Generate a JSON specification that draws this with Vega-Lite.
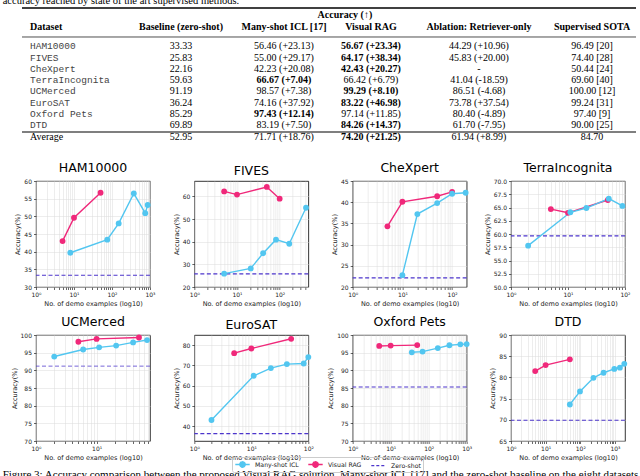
{
"$schema":"https://vega.github.io/schema/vega-lite/v6.json",
"padding":{"left":2,"top":-5,"right":0,"bottom":0},
"background":"white",
"title":{"text":"accuracy reached by state of the art supervised methods.","anchor":"start","font":"Liberation Serif","fontSize":10.5,"fontWeight":"normal","offset":0,"color":"black"},
"spacing":0,
"resolve":{"scale":{"color":"shared"},"legend":{"color":"shared"}},
"datasets":{
"pts":[
{"dataset":"HAM10000","method":"Visual RAG","n":5,"acc":43.0},
{"dataset":"HAM10000","method":"Visual RAG","n":10,"acc":49.6},
{"dataset":"HAM10000","method":"Visual RAG","n":50,"acc":56.67},
{"dataset":"HAM10000","method":"Many-shot ICL","n":8,"acc":39.7},
{"dataset":"HAM10000","method":"Many-shot ICL","n":75,"acc":43.4},
{"dataset":"HAM10000","method":"Many-shot ICL","n":150,"acc":48.0},
{"dataset":"HAM10000","method":"Many-shot ICL","n":375,"acc":56.46},
{"dataset":"HAM10000","method":"Many-shot ICL","n":750,"acc":50.9},
{"dataset":"HAM10000","method":"Many-shot ICL","n":870,"acc":53.2},
{"dataset":"HAM10000","method":"Zero-shot","acc":33.33},
{"dataset":"FIVES","method":"Visual RAG","n":5,"acc":62.2},
{"dataset":"FIVES","method":"Visual RAG","n":10,"acc":60.8},
{"dataset":"FIVES","method":"Visual RAG","n":50,"acc":64.17},
{"dataset":"FIVES","method":"Visual RAG","n":100,"acc":59.0},
{"dataset":"FIVES","method":"Many-shot ICL","n":5,"acc":25.9},
{"dataset":"FIVES","method":"Many-shot ICL","n":21,"acc":28.2},
{"dataset":"FIVES","method":"Many-shot ICL","n":41,"acc":34.9},
{"dataset":"FIVES","method":"Many-shot ICL","n":82,"acc":40.9},
{"dataset":"FIVES","method":"Many-shot ICL","n":168,"acc":39.1},
{"dataset":"FIVES","method":"Many-shot ICL","n":415,"acc":55.0},
{"dataset":"FIVES","method":"Zero-shot","acc":25.83},
{"dataset":"CheXpert","method":"Visual RAG","n":5,"acc":34.3},
{"dataset":"CheXpert","method":"Visual RAG","n":10,"acc":40.1},
{"dataset":"CheXpert","method":"Visual RAG","n":50,"acc":41.4},
{"dataset":"CheXpert","method":"Visual RAG","n":100,"acc":42.43},
{"dataset":"CheXpert","method":"Many-shot ICL","n":10,"acc":22.8},
{"dataset":"CheXpert","method":"Many-shot ICL","n":20,"acc":37.2},
{"dataset":"CheXpert","method":"Many-shot ICL","n":50,"acc":39.8},
{"dataset":"CheXpert","method":"Many-shot ICL","n":100,"acc":42.0},
{"dataset":"CheXpert","method":"Many-shot ICL","n":187,"acc":42.23},
{"dataset":"CheXpert","method":"Zero-shot","acc":22.16},
{"dataset":"TerraIncognita","method":"Visual RAG","n":5,"acc":64.7},
{"dataset":"TerraIncognita","method":"Visual RAG","n":10,"acc":64.0},
{"dataset":"TerraIncognita","method":"Visual RAG","n":50,"acc":66.42},
{"dataset":"TerraIncognita","method":"Many-shot ICL","n":2,"acc":57.8},
{"dataset":"TerraIncognita","method":"Many-shot ICL","n":11,"acc":64.1},
{"dataset":"TerraIncognita","method":"Many-shot ICL","n":21,"acc":64.9},
{"dataset":"TerraIncognita","method":"Many-shot ICL","n":52,"acc":66.67},
{"dataset":"TerraIncognita","method":"Many-shot ICL","n":90,"acc":65.3},
{"dataset":"TerraIncognita","method":"Zero-shot","acc":59.63},
{"dataset":"UCMerced","method":"Visual RAG","n":5,"acc":98.1},
{"dataset":"UCMerced","method":"Visual RAG","n":10,"acc":98.9},
{"dataset":"UCMerced","method":"Visual RAG","n":50,"acc":99.29},
{"dataset":"UCMerced","method":"Many-shot ICL","n":2,"acc":93.9},
{"dataset":"UCMerced","method":"Many-shot ICL","n":6,"acc":95.9},
{"dataset":"UCMerced","method":"Many-shot ICL","n":11,"acc":96.5},
{"dataset":"UCMerced","method":"Many-shot ICL","n":21,"acc":97.0},
{"dataset":"UCMerced","method":"Many-shot ICL","n":40,"acc":97.9},
{"dataset":"UCMerced","method":"Many-shot ICL","n":68,"acc":98.57},
{"dataset":"UCMerced","method":"Zero-shot","acc":91.19},
{"dataset":"EuroSAT","method":"Visual RAG","n":5,"acc":76.1},
{"dataset":"EuroSAT","method":"Visual RAG","n":10,"acc":78.4},
{"dataset":"EuroSAT","method":"Visual RAG","n":50,"acc":83.22},
{"dataset":"EuroSAT","method":"Many-shot ICL","n":2,"acc":43.0},
{"dataset":"EuroSAT","method":"Many-shot ICL","n":11,"acc":64.9},
{"dataset":"EuroSAT","method":"Many-shot ICL","n":22,"acc":68.7},
{"dataset":"EuroSAT","method":"Many-shot ICL","n":42,"acc":70.7},
{"dataset":"EuroSAT","method":"Many-shot ICL","n":83,"acc":71.0},
{"dataset":"EuroSAT","method":"Many-shot ICL","n":100,"acc":74.16},
{"dataset":"EuroSAT","method":"Zero-shot","acc":36.24},
{"dataset":"Oxford Pets","method":"Visual RAG","n":5,"acc":96.9},
{"dataset":"Oxford Pets","method":"Visual RAG","n":10,"acc":97.0},
{"dataset":"Oxford Pets","method":"Visual RAG","n":50,"acc":97.14},
{"dataset":"Oxford Pets","method":"Many-shot ICL","n":36,"acc":95.1},
{"dataset":"Oxford Pets","method":"Many-shot ICL","n":69,"acc":95.3},
{"dataset":"Oxford Pets","method":"Many-shot ICL","n":174,"acc":96.3},
{"dataset":"Oxford Pets","method":"Many-shot ICL","n":352,"acc":97.1},
{"dataset":"Oxford Pets","method":"Many-shot ICL","n":681,"acc":97.35},
{"dataset":"Oxford Pets","method":"Many-shot ICL","n":1000,"acc":97.43},
{"dataset":"Oxford Pets","method":"Zero-shot","acc":85.29},
{"dataset":"DTD","method":"Visual RAG","n":5,"acc":81.5},
{"dataset":"DTD","method":"Visual RAG","n":10,"acc":82.9},
{"dataset":"DTD","method":"Visual RAG","n":50,"acc":84.26},
{"dataset":"DTD","method":"Many-shot ICL","n":50,"acc":73.6},
{"dataset":"DTD","method":"Many-shot ICL","n":98,"acc":76.7},
{"dataset":"DTD","method":"Many-shot ICL","n":240,"acc":79.9},
{"dataset":"DTD","method":"Many-shot ICL","n":470,"acc":81.1},
{"dataset":"DTD","method":"Many-shot ICL","n":960,"acc":82.0},
{"dataset":"DTD","method":"Many-shot ICL","n":1390,"acc":82.3},
{"dataset":"DTD","method":"Many-shot ICL","n":1860,"acc":83.19},
{"dataset":"DTD","method":"Zero-shot","acc":69.89}
],
"tbl":[
{"r":2,"name":"HAM10000","c1":"33.33","c2":"56.46 (+23.13)","c3":"56.67 (+23.34)","c4":"44.29 (+10.96)","c5":"96.49 [20]","best":"c3"},
{"r":3,"name":"FIVES","c1":"25.83","c2":"55.00 (+29.17)","c3":"64.17 (+38.34)","c4":"45.83 (+20.00)","c5":"74.40 [28]","best":"c3"},
{"r":4,"name":"CheXpert","c1":"22.16","c2":"42.23 (+20.08)","c3":"42.43 (+20.27)","c4":"-","c5":"50.44 [24]","best":"c3"},
{"r":5,"name":"TerraIncognita","c1":"59.63","c2":"66.67 (+7.04)","c3":"66.42 (+6.79)","c4":"41.04 (-18.59)","c5":"69.60 [40]","best":"c2"},
{"r":6,"name":"UCMerced","c1":"91.19","c2":"98.57 (+7.38)","c3":"99.29 (+8.10)","c4":"86.51 (-4.68)","c5":"100.00 [12]","best":"c3"},
{"r":7,"name":"EuroSAT","c1":"36.24","c2":"74.16 (+37.92)","c3":"83.22 (+46.98)","c4":"73.78 (+37.54)","c5":"99.24 [31]","best":"c3"},
{"r":8,"name":"Oxford Pets","c1":"85.29","c2":"97.43 (+12.14)","c3":"97.14 (+11.85)","c4":"80.40 (-4.89)","c5":"97.40 [9]","best":"c2"},
{"r":9,"name":"DTD","c1":"69.89","c2":"83.19 (+7.50)","c3":"84.26 (+14.37)","c4":"61.70 (-7.95)","c5":"90.00 [25]","best":"c3"},
{"r":10,"name":"Average","c1":"52.95","c2":"71.71 (+18.76)","c3":"74.20 (+21.25)","c4":"61.94 (+8.99)","c5":"84.70","best":"c3"}
],
"hdr":[
{"r":1,"c":0,"t":"Dataset"},
{"r":1,"c":1,"t":"Baseline (zero-shot)"},
{"r":1,"c":2,"t":"Many-shot ICL [17]"},
{"r":1,"c":3,"t":"Visual RAG"},
{"r":1,"c":4,"t":"Ablation: Retriever-only"},
{"r":1,"c":5,"t":"Supervised SOTA"}
]
},
"vconcat":[
{
"width":600,"height":155,
"view":{"stroke":null},
"layer":[
{"data":{"values":[{}]},"mark":{"type":"rule","strokeWidth":1.3,"color":"black"},"encoding":{"x":{"datum":-1,"type":"quantitative","scale":{"domain":[-1,0,1,2,3,4,5,6],"range":[-14,-6,145,248,335,443,556,600],"zero":false,"nice":false},"axis":null},"x2":{"datum":6},"y":{"datum":-0.583,"type":"quantitative","scale":{"domain":[0,1,2,9,10],"range":[9,21,40.4,119.2,131],"zero":false,"nice":false},"axis":null}}},
{"data":{"values":[{}]},"mark":{"type":"rule","strokeWidth":0.7,"color":"black"},"encoding":{"x":{"datum":-1,"type":"quantitative","axis":null},"x2":{"datum":6},"y":{"datum":1.515,"type":"quantitative","axis":null}}},
{"data":{"values":[{}]},"mark":{"type":"rule","strokeWidth":1.1,"color":"black"},"encoding":{"x":{"datum":-1,"type":"quantitative","axis":null},"x2":{"datum":6},"y":{"datum":9.576,"type":"quantitative","axis":null}}},
{"data":{"values":[{}]},"mark":{"type":"text","font":"Liberation Serif","fontSize":10,"fontWeight":"bold","align":"center","baseline":"middle","color":"black"},
 "encoding":{"x":{"datum":2.7,"type":"quantitative","axis":null},"y":{"datum":0,"type":"quantitative","axis":null},"text":{"value":"Accuracy (↑)"}}},
{"data":{"name":"hdr"},"transform":[{"filter":"datum.c == 0"}],"mark":{"type":"text","font":"Liberation Serif","fontSize":10,"fontWeight":"bold","align":"left","baseline":"middle","color":"black"},
 "encoding":{"x":{"field":"c","type":"quantitative","axis":null},"y":{"field":"r","type":"quantitative","axis":null},"text":{"field":"t"}}},
{"data":{"name":"hdr"},"transform":[{"filter":"datum.c > 0"}],"mark":{"type":"text","font":"Liberation Serif","fontSize":10,"fontWeight":"bold","align":"center","baseline":"middle","color":"black"},
 "encoding":{"x":{"field":"c","type":"quantitative","axis":null},"y":{"field":"r","type":"quantitative","axis":null},"text":{"field":"t"}}},
{"data":{"name":"tbl"},"transform":[{"filter":"datum.r < 10"}],"mark":{"type":"text","font":"Liberation Mono","fontSize":9.5,"align":"left","baseline":"middle","color":"#444444"},
 "encoding":{"x":{"datum":0,"type":"quantitative","axis":null},"y":{"field":"r","type":"quantitative","axis":null},"text":{"field":"name"}}},
{"data":{"name":"tbl"},"transform":[{"filter":"datum.r == 10"}],"mark":{"type":"text","font":"Liberation Serif","fontSize":10,"align":"left","baseline":"middle","color":"black"},
 "encoding":{"x":{"datum":0,"type":"quantitative","axis":null},"y":{"field":"r","type":"quantitative","axis":null},"text":{"field":"name"}}},
{"data":{"name":"tbl"},"mark":{"type":"text","font":"Liberation Serif","fontSize":10,"align":"center","baseline":"middle","color":"black"},
 "encoding":{"x":{"datum":1,"type":"quantitative","axis":null},"y":{"field":"r","type":"quantitative","axis":null},"text":{"field":"c1"}}},
{"data":{"name":"tbl"},"transform":[{"filter":"datum.best != 'c2'"}],"mark":{"type":"text","font":"Liberation Serif","fontSize":10,"align":"center","baseline":"middle","color":"black"},
 "encoding":{"x":{"datum":2,"type":"quantitative","axis":null},"y":{"field":"r","type":"quantitative","axis":null},"text":{"field":"c2"}}},
{"data":{"name":"tbl"},"transform":[{"filter":"datum.best == 'c2'"}],"mark":{"type":"text","font":"Liberation Serif","fontSize":10,"fontWeight":"bold","align":"center","baseline":"middle","color":"black"},
 "encoding":{"x":{"datum":2,"type":"quantitative","axis":null},"y":{"field":"r","type":"quantitative","axis":null},"text":{"field":"c2"}}},
{"data":{"name":"tbl"},"transform":[{"filter":"datum.best != 'c3'"}],"mark":{"type":"text","font":"Liberation Serif","fontSize":10,"align":"center","baseline":"middle","color":"black"},
 "encoding":{"x":{"datum":3,"type":"quantitative","axis":null},"y":{"field":"r","type":"quantitative","axis":null},"text":{"field":"c3"}}},
{"data":{"name":"tbl"},"transform":[{"filter":"datum.best == 'c3'"}],"mark":{"type":"text","font":"Liberation Serif","fontSize":10,"fontWeight":"bold","align":"center","baseline":"middle","color":"black"},
 "encoding":{"x":{"datum":3,"type":"quantitative","axis":null},"y":{"field":"r","type":"quantitative","axis":null},"text":{"field":"c3"}}},
{"data":{"name":"tbl"},"mark":{"type":"text","font":"Liberation Serif","fontSize":10,"align":"center","baseline":"middle","color":"black"},
 "encoding":{"x":{"datum":4,"type":"quantitative","axis":null},"y":{"field":"r","type":"quantitative","axis":null},"text":{"field":"c4"}}},
{"data":{"name":"tbl"},"mark":{"type":"text","font":"Liberation Serif","fontSize":10,"align":"center","baseline":"middle","color":"black"},
 "encoding":{"x":{"datum":5,"type":"quantitative","axis":null},"y":{"field":"r","type":"quantitative","axis":null},"text":{"field":"c5"}}}
]
},
{
"columns":4,
"bounds":"flush",
"spacing":{"row":48,"column":44.33},
"title":{"text":"Figure 3: Accuracy comparison between the proposed Visual RAG solution, Many-shot ICL [17] and the zero-shot baseline on the eight datasets.","orient":"bottom","anchor":"start","font":"Liberation Serif","fontSize":11,"fontWeight":"normal","dx":-8,"offset":8,"color":"black"},
"concat":[
{"width":114,"height":106,"data":{"name":"pts"},"title":{"text":"HAM10000"},"transform":[{"filter":{"field":"dataset","equal":"HAM10000"}}],
 "encoding":{
   "y":{"field":"acc","type":"quantitative","scale":{"domain":[30,60],"nice":false,"zero":false},"axis":{"title":"Accuracy(%)","values":[30,35,40,45,50,55,60]}},
   "color":{"field":"method","type":"nominal","scale":{"domain":["Many-shot ICL","Visual RAG","Zero-shot"],"range":["#52c6f0","#f0287a","#4c35cc"]},
    "legend":{"orient":"none","legendX":196,"legendY":451,"direction":"horizontal","title":null,"symbolSize":81,"symbolStrokeWidth":1.4,"symbolOffset":3,"labelFont":"DejaVu Sans","labelFontSize":6.2,"labelColor":"#222222","strokeColor":"#cccccc","padding":2,"cornerRadius":2,"columnPadding":6,"labelOffset":7,
     "encode":{"symbols":{"update":{
      "shape":{"signal":"datum.label === 'Zero-shot' ? 'M-1.6,0L1.6,0' : 'M-1.6,0L1.6,0M0.6,0A0.6,0.6,0,1,1,-0.6,0A0.6,0.6,0,1,1,0.6,0'"},
      "strokeDash":{"signal":"datum.label === 'Zero-shot' ? [3,2] : [1,0]"},
      "fill":[{"test":"datum.label === 'Zero-shot'","value":"transparent"},{"scale":"color","field":"value"}],
      "stroke":{"scale":"color","field":"value"},
      "opacity":{"value":1}}}}}}},
 "layer":[
 {"transform":[{"filter":{"field":"method","equal":"Zero-shot"}}],"mark":{"type":"rule","strokeDash":[4,2.5],"strokeWidth":1.2},"encoding":{}},
 {"transform":[{"filter":{"field":"method","oneOf":["Many-shot ICL","Visual RAG"]}}],"mark":{"type":"line","strokeWidth":1.4,"clip":false,"point":{"filled":true,"size":34,"opacity":1}},
  "encoding":{"x":{"field":"n","type":"quantitative","scale":{"type":"log","domain":[1,1000],"nice":false},
    "axis":{"title":"No. of demo examples (log10)","values":[1,2,3,4,5,6,7,8,9,10,20,30,40,50,60,70,80,90,100,200,300,400,500,600,700,800,900,1000],"labelExpr":"datum.value == 1 ? '10⁰' : datum.value == 10 ? '10¹' : datum.value == 100 ? '10²' : datum.value == 1000 ? '10³' : ''","labelFlush":false,"labelOverlap":false}}}}
 ]},
{"width":114,"height":106,"data":{"name":"pts"},"title":{"text":"FIVES"},"transform":[{"filter":{"field":"dataset","equal":"FIVES"}}],
 "encoding":{
   "y":{"field":"acc","type":"quantitative","scale":{"domain":[20,66.8],"nice":false,"zero":false},"axis":{"title":"Accuracy(%)","values":[20,30,40,50,60]}},
   "color":{"field":"method","type":"nominal","scale":{"domain":["Many-shot ICL","Visual RAG","Zero-shot"],"range":["#52c6f0","#f0287a","#4c35cc"]},"legend":null}},
 "layer":[
 {"transform":[{"filter":{"field":"method","equal":"Zero-shot"}}],"mark":{"type":"rule","strokeDash":[4,2.5],"strokeWidth":1.2},"encoding":{}},
 {"transform":[{"filter":{"field":"method","oneOf":["Many-shot ICL","Visual RAG"]}}],"mark":{"type":"line","strokeWidth":1.4,"clip":false,"point":{"filled":true,"size":34,"opacity":1}},
  "encoding":{"x":{"field":"n","type":"quantitative","scale":{"type":"log","domain":[1,470],"nice":false},
    "axis":{"title":"No. of demo examples (log10)","values":[1,2,3,4,5,6,7,8,9,10,20,30,40,50,60,70,80,90,100,200,300,400],"labelExpr":"datum.value == 1 ? '10⁰' : datum.value == 10 ? '10¹' : datum.value == 100 ? '10²' : datum.value == 1000 ? '10³' : ''","labelFlush":false,"labelOverlap":false}}}}
 ]},
{"width":114,"height":106,"data":{"name":"pts"},"title":{"text":"CheXpert"},"transform":[{"filter":{"field":"dataset","equal":"CheXpert"}}],
 "encoding":{
   "y":{"field":"acc","type":"quantitative","scale":{"domain":[20,45],"nice":false,"zero":false},"axis":{"title":"Accuracy(%)","values":[20,25,30,35,40,45]}},
   "color":{"field":"method","type":"nominal","scale":{"domain":["Many-shot ICL","Visual RAG","Zero-shot"],"range":["#52c6f0","#f0287a","#4c35cc"]},"legend":null}},
 "layer":[
 {"transform":[{"filter":{"field":"method","equal":"Zero-shot"}}],"mark":{"type":"rule","strokeDash":[4,2.5],"strokeWidth":1.2},"encoding":{}},
 {"transform":[{"filter":{"field":"method","oneOf":["Many-shot ICL","Visual RAG"]}}],"mark":{"type":"line","strokeWidth":1.4,"clip":false,"point":{"filled":true,"size":34,"opacity":1}},
  "encoding":{"x":{"field":"n","type":"quantitative","scale":{"type":"log","domain":[1,196],"nice":false},
    "axis":{"title":"No. of demo examples (log10)","values":[1,2,3,4,5,6,7,8,9,10,20,30,40,50,60,70,80,90,100],"labelExpr":"datum.value == 1 ? '10⁰' : datum.value == 10 ? '10¹' : datum.value == 100 ? '10²' : datum.value == 1000 ? '10³' : ''","labelFlush":false,"labelOverlap":false}}}}
 ]},
{"width":114,"height":106,"data":{"name":"pts"},"title":{"text":"TerraIncognita"},"transform":[{"filter":{"field":"dataset","equal":"TerraIncognita"}}],
 "encoding":{
   "y":{"field":"acc","type":"quantitative","scale":{"domain":[50,70],"nice":false,"zero":false},"axis":{"title":"Accuracy(%)","values":[50,52.5,55,57.5,60,62.5,65,67.5,70],"format":".1f"}},
   "color":{"field":"method","type":"nominal","scale":{"domain":["Many-shot ICL","Visual RAG","Zero-shot"],"range":["#52c6f0","#f0287a","#4c35cc"]},"legend":null}},
 "layer":[
 {"transform":[{"filter":{"field":"method","equal":"Zero-shot"}}],"mark":{"type":"rule","strokeDash":[4,2.5],"strokeWidth":1.2},"encoding":{}},
 {"transform":[{"filter":{"field":"method","oneOf":["Many-shot ICL","Visual RAG"]}}],"mark":{"type":"line","strokeWidth":1.4,"clip":false,"point":{"filled":true,"size":34,"opacity":1}},
  "encoding":{"x":{"field":"n","type":"quantitative","scale":{"type":"log","domain":[1,100],"nice":false},
    "axis":{"title":"No. of demo examples (log10)","values":[1,2,3,4,5,6,7,8,9,10,20,30,40,50,60,70,80,90,100],"labelExpr":"datum.value == 1 ? '10⁰' : datum.value == 10 ? '10¹' : datum.value == 100 ? '10²' : datum.value == 1000 ? '10³' : ''","labelFlush":false,"labelOverlap":false}}}}
 ]},
{"width":114,"height":106,"data":{"name":"pts"},"title":{"text":"UCMerced"},"transform":[{"filter":{"field":"dataset","equal":"UCMerced"}}],
 "encoding":{
   "y":{"field":"acc","type":"quantitative","scale":{"domain":[70,100],"nice":false,"zero":false},"axis":{"title":"Accuracy(%)","values":[70,75,80,85,90,95,100]}},
   "color":{"field":"method","type":"nominal","scale":{"domain":["Many-shot ICL","Visual RAG","Zero-shot"],"range":["#52c6f0","#f0287a","#4c35cc"]},"legend":null}},
 "layer":[
 {"transform":[{"filter":{"field":"method","equal":"Zero-shot"}}],"mark":{"type":"rule","strokeDash":[4,2.5],"strokeWidth":0.9,"opacity":0.85},"encoding":{}},
 {"transform":[{"filter":{"field":"method","oneOf":["Many-shot ICL","Visual RAG"]}}],"mark":{"type":"line","strokeWidth":1.4,"clip":false,"point":{"filled":true,"size":34,"opacity":1}},
  "encoding":{"x":{"field":"n","type":"quantitative","scale":{"type":"log","domain":[1,76],"nice":false},
    "axis":{"title":"No. of demo examples (log10)","values":[1,2,3,4,5,6,7,8,9,10,20,30,40,50,60,70],"labelExpr":"datum.value == 1 ? '10⁰' : datum.value == 10 ? '10¹' : datum.value == 100 ? '10²' : datum.value == 1000 ? '10³' : ''","labelFlush":false,"labelOverlap":false}}}}
 ]},
{"width":114,"height":106,"data":{"name":"pts"},"title":{"text":"EuroSAT"},"transform":[{"filter":{"field":"dataset","equal":"EuroSAT"}}],
 "encoding":{
   "y":{"field":"acc","type":"quantitative","scale":{"domain":[32.6,85.1],"nice":false,"zero":false},"axis":{"title":"Accuracy(%)","values":[40,50,60,70,80]}},
   "color":{"field":"method","type":"nominal","scale":{"domain":["Many-shot ICL","Visual RAG","Zero-shot"],"range":["#52c6f0","#f0287a","#4c35cc"]},"legend":null}},
 "layer":[
 {"transform":[{"filter":{"field":"method","equal":"Zero-shot"}}],"mark":{"type":"rule","strokeDash":[4,2.5],"strokeWidth":1.2},"encoding":{}},
 {"transform":[{"filter":{"field":"method","oneOf":["Many-shot ICL","Visual RAG"]}}],"mark":{"type":"line","strokeWidth":1.4,"clip":false,"point":{"filled":true,"size":34,"opacity":1}},
  "encoding":{"x":{"field":"n","type":"quantitative","scale":{"type":"log","domain":[1,100],"nice":false},
    "axis":{"title":"No. of demo examples (log10)","values":[1,2,3,4,5,6,7,8,9,10,20,30,40,50,60,70,80,90,100],"labelExpr":"datum.value == 1 ? '10⁰' : datum.value == 10 ? '10¹' : datum.value == 100 ? '10²' : datum.value == 1000 ? '10³' : ''","labelFlush":false,"labelOverlap":false}}}}
 ]},
{"width":114,"height":106,"data":{"name":"pts"},"title":{"text":"Oxford Pets"},"transform":[{"filter":{"field":"dataset","equal":"Oxford Pets"}}],
 "encoding":{
   "y":{"field":"acc","type":"quantitative","scale":{"domain":[70,100],"nice":false,"zero":false},"axis":{"title":"Accuracy(%)","values":[70,75,80,85,90,95,100]}},
   "color":{"field":"method","type":"nominal","scale":{"domain":["Many-shot ICL","Visual RAG","Zero-shot"],"range":["#52c6f0","#f0287a","#4c35cc"]},"legend":null}},
 "layer":[
 {"transform":[{"filter":{"field":"method","equal":"Zero-shot"}}],"mark":{"type":"rule","strokeDash":[4,2.5],"strokeWidth":1.2},"encoding":{}},
 {"transform":[{"filter":{"field":"method","oneOf":["Many-shot ICL","Visual RAG"]}}],"mark":{"type":"line","strokeWidth":1.4,"clip":false,"point":{"filled":true,"size":34,"opacity":1}},
  "encoding":{"x":{"field":"n","type":"quantitative","scale":{"type":"log","domain":[1,1000],"nice":false},
    "axis":{"title":"No. of demo examples (log10)","values":[1,2,3,4,5,6,7,8,9,10,20,30,40,50,60,70,80,90,100,200,300,400,500,600,700,800,900,1000],"labelExpr":"datum.value == 1 ? '10⁰' : datum.value == 10 ? '10¹' : datum.value == 100 ? '10²' : datum.value == 1000 ? '10³' : ''","labelFlush":false,"labelOverlap":false}}}}
 ]},
{"width":114,"height":106,"data":{"name":"pts"},"title":{"text":"DTD"},"transform":[{"filter":{"field":"dataset","equal":"DTD"}}],
 "encoding":{
   "y":{"field":"acc","type":"quantitative","scale":{"domain":[65,90],"nice":false,"zero":false},"axis":{"title":"Accuracy(%)","values":[65,70,75,80,85,90]}},
   "color":{"field":"method","type":"nominal","scale":{"domain":["Many-shot ICL","Visual RAG","Zero-shot"],"range":["#52c6f0","#f0287a","#4c35cc"]},"legend":null}},
 "layer":[
 {"transform":[{"filter":{"field":"method","equal":"Zero-shot"}}],"mark":{"type":"rule","strokeDash":[4,2.5],"strokeWidth":1.2},"encoding":{}},
 {"transform":[{"filter":{"field":"method","oneOf":["Many-shot ICL","Visual RAG"]}}],"mark":{"type":"line","strokeWidth":1.4,"clip":false,"point":{"filled":true,"size":34,"opacity":1}},
  "encoding":{"x":{"field":"n","type":"quantitative","scale":{"type":"log","domain":[1,1950],"nice":false},
    "axis":{"title":"No. of demo examples (log10)","values":[1,2,3,4,5,6,7,8,9,10,20,30,40,50,60,70,80,90,100,200,300,400,500,600,700,800,900,1000],"labelExpr":"datum.value == 1 ? '10⁰' : datum.value == 10 ? '10¹' : datum.value == 100 ? '10²' : datum.value == 1000 ? '10³' : ''","labelFlush":false,"labelOverlap":false}}}}
 ]}
]
}
],
"config":{
"font":"DejaVu Sans",
"view":{"stroke":"black","strokeWidth":0.8},
"title":{"font":"DejaVu Sans","fontSize":12.5,"fontWeight":"normal","color":"black","offset":4},
"axis":{"labelFont":"DejaVu Sans","labelFontSize":6,"labelColor":"#222222","titleFont":"DejaVu Sans","titleFontSize":6.5,"titleFontWeight":"normal","titleColor":"#222222","domain":false,"tickColor":"black","tickSize":2.5,"tickWidth":0.6,"grid":true,"gridColor":"#dadada","gridWidth":0.5,"labelPadding":2,"titlePadding":3}
}
}
